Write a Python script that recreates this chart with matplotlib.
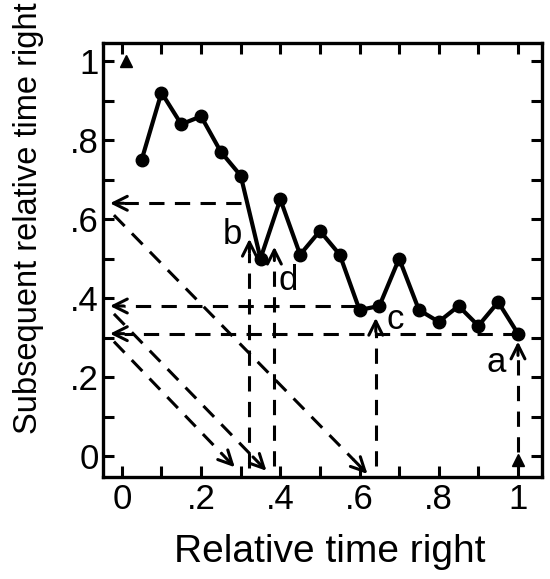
import matplotlib
matplotlib.use("Agg")
import matplotlib.pyplot as plt
from matplotlib.ticker import MultipleLocator, FuncFormatter

plt.rcParams['font.family'] = ['Liberation Sans', 'DejaVu Sans']

# relative time right vs. subsequent relative time right
rel_time = [0.05, 0.10, 0.15, 0.20, 0.25, 0.30, 0.35, 0.40, 0.45, 0.50,
            0.55, 0.60, 0.65, 0.70, 0.75, 0.80, 0.85, 0.90, 0.95, 1.00]
subseq = [0.75, 0.92, 0.84, 0.86, 0.77, 0.71, 0.50, 0.65, 0.51, 0.57,
          0.51, 0.37, 0.38, 0.50, 0.37, 0.34, 0.38, 0.33, 0.39, 0.31]

# triangles (end points)
tri_x = [0.01, 1.00]
tri_y = [1.00, -0.01]

# construction lines (data coords)
h_y = [0.64, 0.38, 0.31]          # horizontal guides -> y axis
h_from = [0.30, 0.59, 1.00]
diag_y0 = [0.61, 0.36, 0.29]      # diagonals from y axis down to x axis
diag_x1 = [0.62, 0.365, 0.285]
diag_y1 = [-0.045, -0.037, -0.028]
vert_x = [1.00, 0.322, 0.641, 0.385]   # vertical guides up to curve
vert_y0 = [0.01, -0.03, -0.025, -0.025]
vert_y1 = [0.29, 0.55, 0.35, 0.53]
lab_txt = ['a', 'b', 'c', 'd']
lab_x = [0.946, 0.28, 0.691, 0.419]
lab_y = [0.213, 0.538, 0.323, 0.42]

fig = plt.figure(figsize=(5.5, 5.79), dpi=100)
ax = fig.add_axes([0.187, 0.176, 0.798, 0.750])

dash = (0, (5.0, 3.4))
arrow = dict(arrowstyle='->,head_length=1.0,head_width=0.5', lw=2.2,
             color='black', shrinkA=0, shrinkB=0)

def dashed_arrow(x0, y0, x1, y1):
    # dashed shaft, solid head at (x1, y1)
    f = 0.035 / max(abs(x1 - x0), abs(y1 - y0))
    xm = x1 - (x1 - x0) * f
    ym = y1 - (y1 - y0) * f
    ax.plot([x0, xm], [y0, ym], color='black', lw=2.2, linestyle=dash,
            dash_capstyle='butt')
    ax.annotate('', xy=(x1, y1), xytext=(xm, ym), arrowprops=arrow)

for y, x0 in zip(h_y, h_from):
    dashed_arrow(x0, y, -0.03, y)
for y0, x1, y1 in zip(diag_y0, diag_x1, diag_y1):
    dashed_arrow(-0.02, y0, x1, y1)
for x, y0, y1 in zip(vert_x, vert_y0, vert_y1):
    dashed_arrow(x, y0, x, y1)

for t, x, y in zip(lab_txt, lab_x, lab_y):
    ax.text(x, y, t, fontsize=25, ha='center', va='baseline')

ax.plot(rel_time, subseq, color='black', lw=3, marker='o', markersize=9)
ax.plot(tri_x, tri_y, linestyle='none', marker='^', color='black', markersize=8)

ax.set_xlim(-0.048, 1.06)
ax.set_ylim(-0.053, 1.046)

def fmt(v, pos):
    k = int(round(v * 10))
    if k % 2:
        return ''
    if k == 0:
        return '0'
    if k == 10:
        return '1'
    return '.%d' % k

for axis in (ax.xaxis, ax.yaxis):
    axis.set_major_locator(MultipleLocator(0.1))
    axis.set_major_formatter(FuncFormatter(fmt))
ax.tick_params(direction='in', length=8, width=2.2, labelsize=25,
               top=True, right=True)
ax.tick_params(axis='x', pad=4)
ax.tick_params(axis='y', pad=3)
for s in ax.spines.values():
    s.set_linewidth(2.4)

ax.set_xlabel('Relative time right', fontsize=28, va='center')
ax.xaxis.set_label_coords(0.517, -0.173)
ax.set_ylabel('Subsequent relative time right', fontsize=23.5, va='center')
ax.yaxis.set_label_coords(-0.169, 0.597)

fig.savefig('out.png', dpi=100)
